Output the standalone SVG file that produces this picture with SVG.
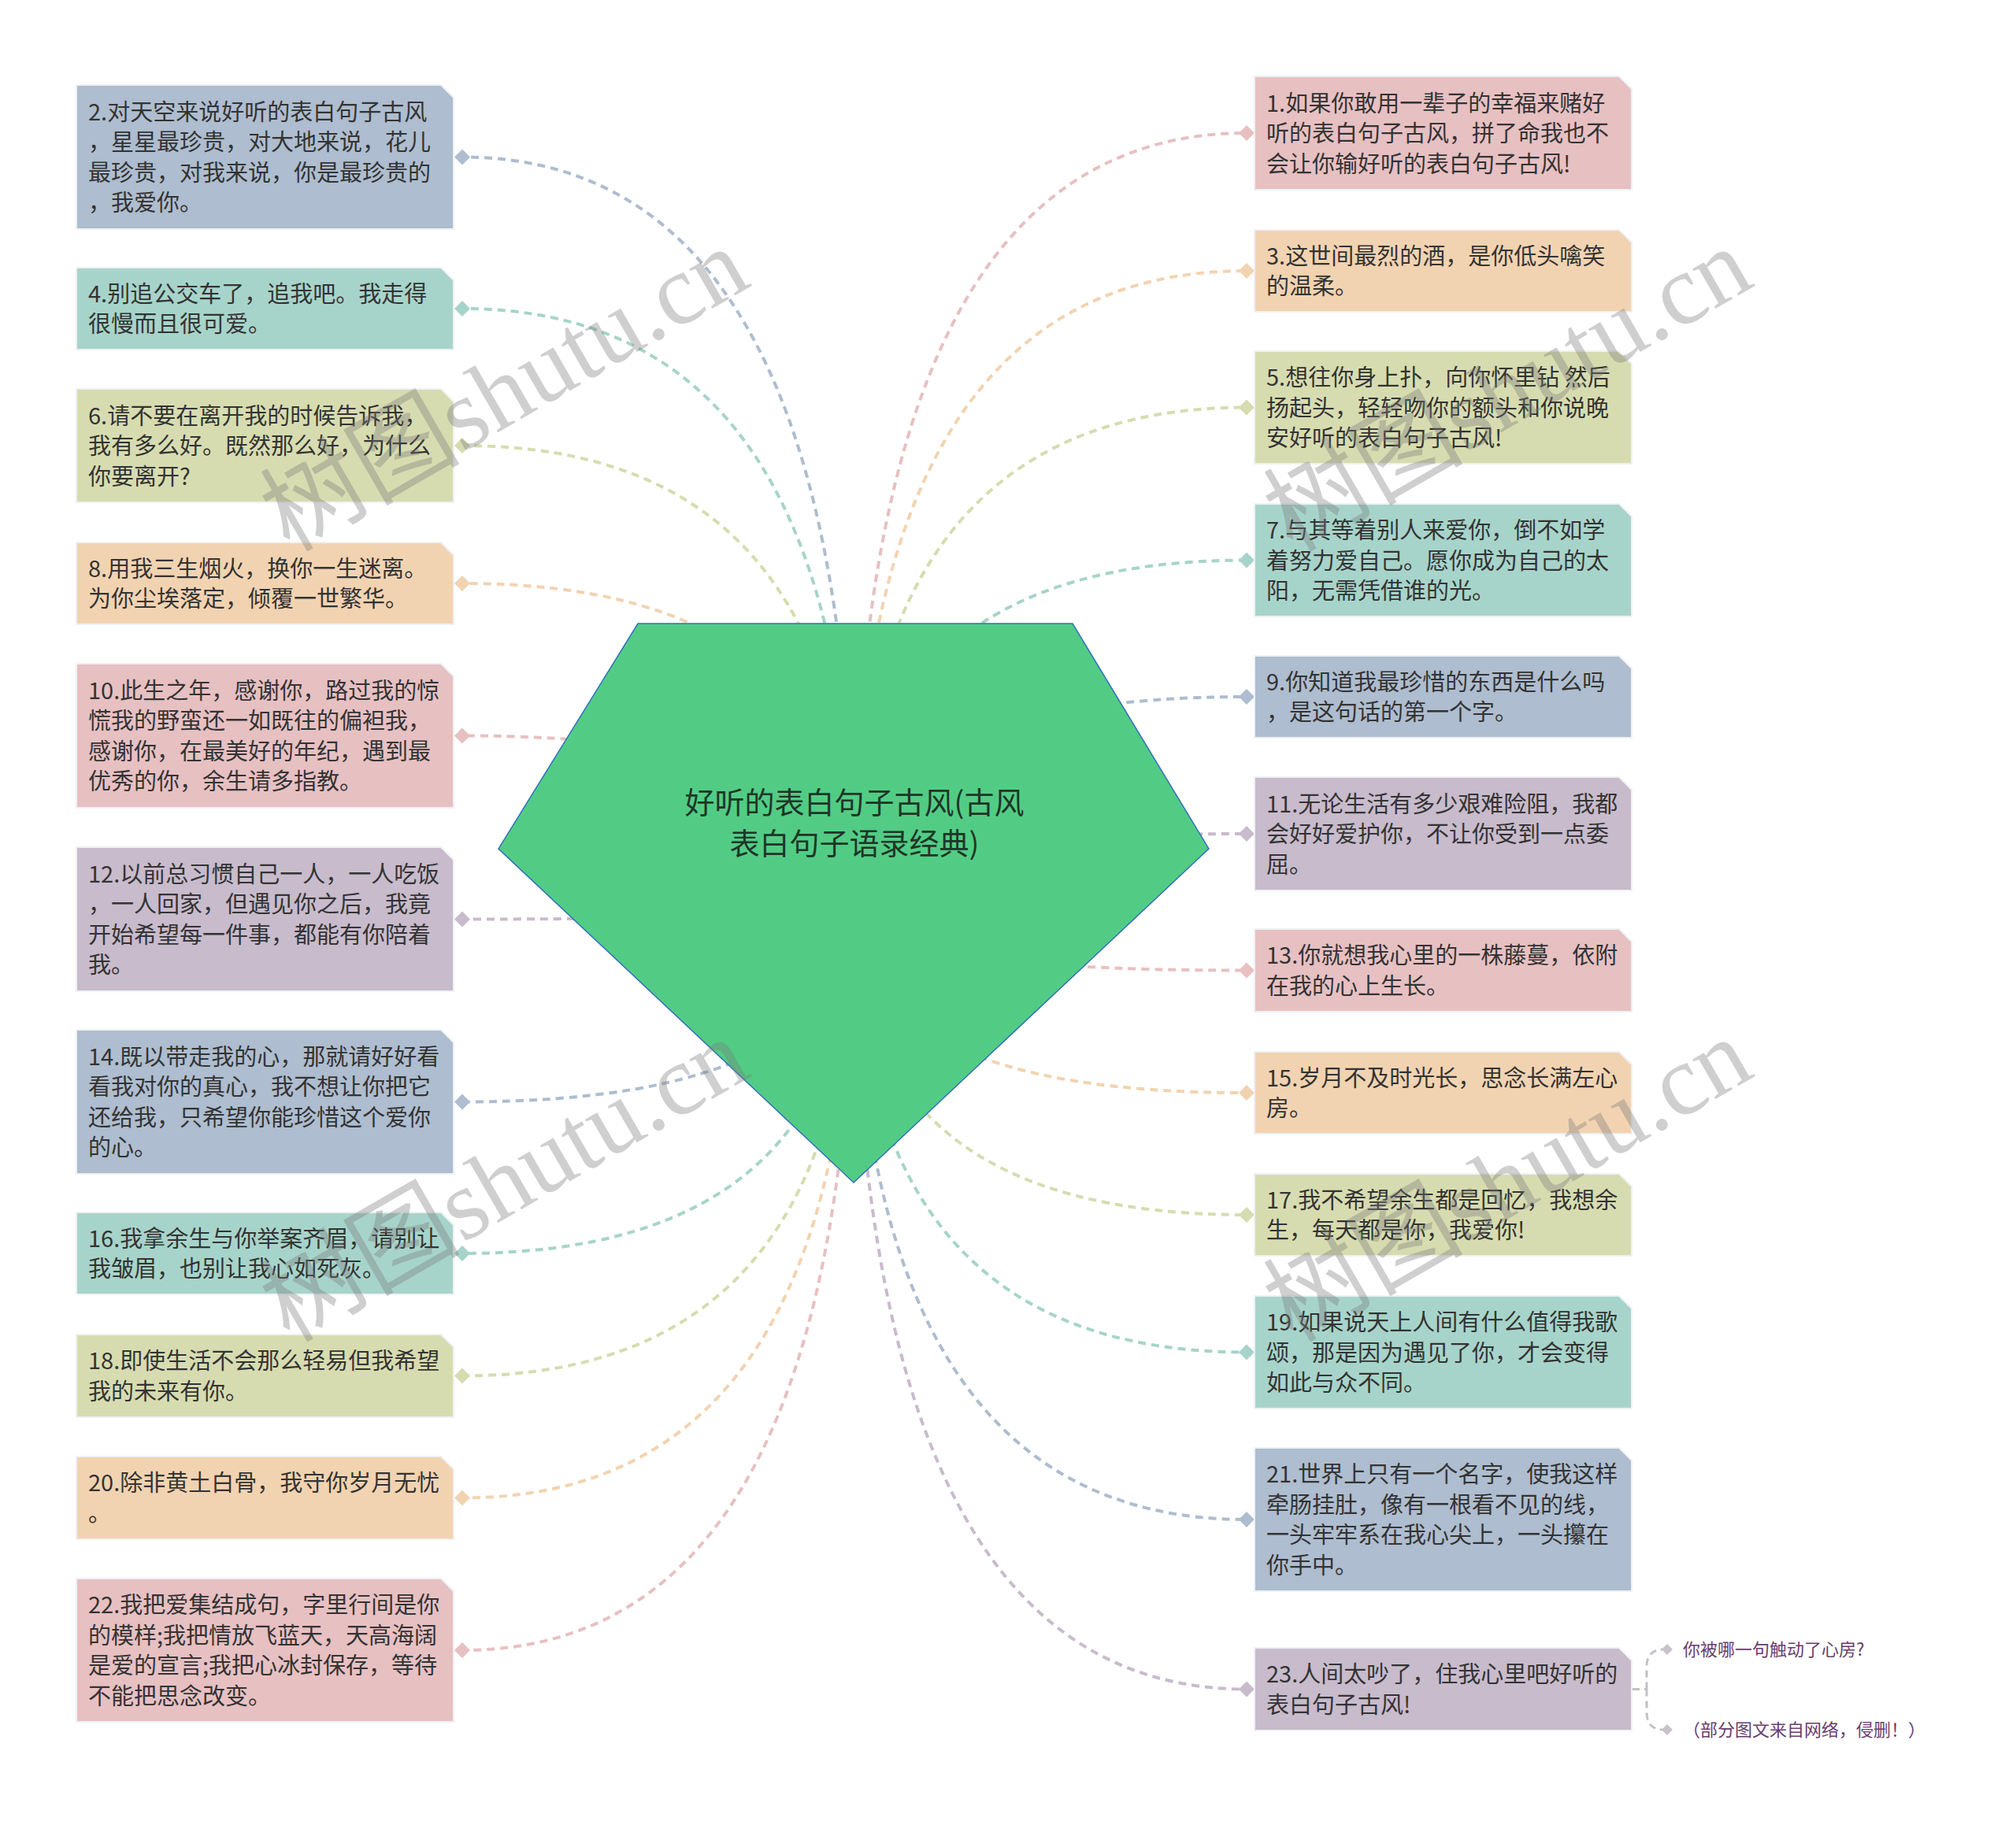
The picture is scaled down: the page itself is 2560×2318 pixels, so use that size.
<svg xmlns="http://www.w3.org/2000/svg" xmlns:xlink="http://www.w3.org/1999/xlink" width="2560" height="2318" viewBox="0 0 2560 2318">
<style>
.t{font-family:"Noto Sans CJK SC","Noto Sans",sans-serif;font-size:29px;fill:#333333}
.root{font-family:"Noto Sans CJK SC","Noto Sans",sans-serif;font-size:38px;fill:#1f3527;text-anchor:middle}
.sub{font-family:"Noto Sans CJK SC","Noto Sans",sans-serif;font-size:22px;fill:#6a3d6c}
.box{stroke:#eef1f4;stroke-width:2}
.c{fill:none;stroke-width:4;stroke-dasharray:10 7}
.wm{font-family:"Liberation Serif","Noto Sans CJK SC",serif;font-size:127px;fill:#7a7a7a;fill-opacity:0.36;text-anchor:middle}
.blue{fill:#aebdcf}.teal{fill:#a7d4ca}.olive{fill:#d7dcb0}.peach{fill:#f2d3b1}.pink{fill:#e7c0c2}.lav{fill:#c8bbcc}
.sblue{stroke:#aebdcf}.steal{stroke:#a7d4ca}.solive{stroke:#d7dcb0}.speach{stroke:#f2d3b1}.spink{stroke:#e7c0c2}.slav{stroke:#c8bbcc}
</style>
<defs>
<path id="dm" d="M-10,0 L0,-10 L10,0 L0,10 Z"/>
<path id="dms" d="M-7,0 L0,-7 L7,0 L0,7 Z"/>
</defs>
<rect width="2560" height="2318" fill="#ffffff"/>

<g id="connectors">
<path class="c sblue" d="M1084,1146 Q1084,199.5 587,199.5"/>
<path class="c steal" d="M1084,1146 Q1084,392 587,392"/>
<path class="c solive" d="M1084,1146 Q1084,566 587,566"/>
<path class="c speach" d="M1084,1146 Q1084,741 587,741"/>
<path class="c spink" d="M1084,1146 Q1084,934.5 587,934.5"/>
<path class="c slav" d="M1084,1146 Q1084,1167.5 587,1167.5"/>
<path class="c sblue" d="M1084,1146 Q1084,1399.5 587,1399.5"/>
<path class="c steal" d="M1084,1146 Q1084,1592 587,1592"/>
<path class="c solive" d="M1084,1146 Q1084,1747.5 587,1747.5"/>
<path class="c speach" d="M1084,1146 Q1084,1902.5 587,1902.5"/>
<path class="c spink" d="M1084,1146 Q1084,2096 587,2096"/>
<path class="c spink" d="M1084,1146 Q1084,169 1583,169"/>
<path class="c speach" d="M1084,1146 Q1084,344 1583,344"/>
<path class="c solive" d="M1084,1146 Q1084,517.5 1583,517.5"/>
<path class="c steal" d="M1084,1146 Q1084,711.5 1583,711.5"/>
<path class="c sblue" d="M1084,1146 Q1084,885 1583,885"/>
<path class="c slav" d="M1084,1146 Q1084,1059 1583,1059"/>
<path class="c spink" d="M1084,1146 Q1084,1232.5 1583,1232.5"/>
<path class="c speach" d="M1084,1146 Q1084,1388 1583,1388"/>
<path class="c solive" d="M1084,1146 Q1084,1543 1583,1543"/>
<path class="c steal" d="M1084,1146 Q1084,1717.5 1583,1717.5"/>
<path class="c sblue" d="M1084,1146 Q1084,1930 1583,1930"/>
<path class="c slav" d="M1084,1146 Q1084,2145.5 1583,2145.5"/>
<path d="M2073,2145.5 H2091 M2091,2145.5 V2117 Q2091,2095 2113,2095 M2091,2145.5 V2175 Q2091,2197 2113,2197" fill="none" stroke="#c4c0c6" stroke-width="3" stroke-dasharray="9 6"/>
<use xlink:href="#dm" href="#dm" x="587" y="199.5" class="blue"/>
<use xlink:href="#dm" href="#dm" x="587" y="392" class="teal"/>
<use xlink:href="#dm" href="#dm" x="587" y="566" class="olive"/>
<use xlink:href="#dm" href="#dm" x="587" y="741" class="peach"/>
<use xlink:href="#dm" href="#dm" x="587" y="934.5" class="pink"/>
<use xlink:href="#dm" href="#dm" x="587" y="1167.5" class="lav"/>
<use xlink:href="#dm" href="#dm" x="587" y="1399.5" class="blue"/>
<use xlink:href="#dm" href="#dm" x="587" y="1592" class="teal"/>
<use xlink:href="#dm" href="#dm" x="587" y="1747.5" class="olive"/>
<use xlink:href="#dm" href="#dm" x="587" y="1902.5" class="peach"/>
<use xlink:href="#dm" href="#dm" x="587" y="2096" class="pink"/>
<use xlink:href="#dm" href="#dm" x="1583" y="169" class="pink"/>
<use xlink:href="#dm" href="#dm" x="1583" y="344" class="peach"/>
<use xlink:href="#dm" href="#dm" x="1583" y="517.5" class="olive"/>
<use xlink:href="#dm" href="#dm" x="1583" y="711.5" class="teal"/>
<use xlink:href="#dm" href="#dm" x="1583" y="885" class="blue"/>
<use xlink:href="#dm" href="#dm" x="1583" y="1059" class="lav"/>
<use xlink:href="#dm" href="#dm" x="1583" y="1232.5" class="pink"/>
<use xlink:href="#dm" href="#dm" x="1583" y="1388" class="peach"/>
<use xlink:href="#dm" href="#dm" x="1583" y="1543" class="olive"/>
<use xlink:href="#dm" href="#dm" x="1583" y="1717.5" class="teal"/>
<use xlink:href="#dm" href="#dm" x="1583" y="1930" class="blue"/>
<use xlink:href="#dm" href="#dm" x="1583" y="2145.5" class="lav"/>
<use xlink:href="#dms" href="#dms" x="2117" y="2095" fill="#c9c1cc"/>
<use xlink:href="#dms" href="#dms" x="2117" y="2197" fill="#c9c1cc"/>
</g>

<g id="root">
<polygon points="810,792 1362,792 1535,1078 1084,1502 633,1078" fill="#52cc85" stroke="#2f6fbd" stroke-width="1.5"/>
<text class="root" x="1085" y="1033">好听的表白句子古风(古风</text>
<text class="root" x="1085" y="1085">表白句子语录经典)</text>
</g>

<g id="n2"><path class="box blue" d="M97,108 H560 L576,124 V291 H97 Z"/>
<text class="t" x="112" y="152.75">2.对天空来说好听的表白句子古风</text><text class="t" x="112" y="191.25">，星星最珍贵，对大地来说，花儿</text><text class="t" x="112" y="229.75">最珍贵，对我来说，你是最珍贵的</text><text class="t" x="112" y="268.25">，我爱你。</text></g>
<g id="n4"><path class="box teal" d="M97,340 H560 L576,356 V444 H97 Z"/>
<text class="t" x="112" y="383.75">4.别追公交车了，追我吧。我走得</text><text class="t" x="112" y="422.25">很慢而且很可爱。</text></g>
<g id="n6"><path class="box olive" d="M97,494 H560 L576,510 V638 H97 Z"/>
<text class="t" x="112" y="538.5">6.请不要在离开我的时候告诉我，</text><text class="t" x="112" y="577">我有多么好。既然那么好，为什么</text><text class="t" x="112" y="615.5">你要离开?</text></g>
<g id="n8"><path class="box peach" d="M97,689 H560 L576,705 V793 H97 Z"/>
<text class="t" x="112" y="732.75">8.用我三生烟火，换你一生迷离。</text><text class="t" x="112" y="771.25">为你尘埃落定，倾覆一世繁华。</text></g>
<g id="n10"><path class="box pink" d="M97,843 H560 L576,859 V1026 H97 Z"/>
<text class="t" x="112" y="887.75">10.此生之年，感谢你，路过我的惊</text><text class="t" x="112" y="926.25">慌我的野蛮还一如既往的偏袒我，</text><text class="t" x="112" y="964.75">感谢你，在最美好的年纪，遇到最</text><text class="t" x="112" y="1003.25">优秀的你，余生请多指教。</text></g>
<g id="n12"><path class="box lav" d="M97,1076 H560 L576,1092 V1259 H97 Z"/>
<text class="t" x="112" y="1120.75">12.以前总习惯自己一人，一人吃饭</text><text class="t" x="112" y="1159.25">，一人回家，但遇见你之后，我竟</text><text class="t" x="112" y="1197.75">开始希望每一件事，都能有你陪着</text><text class="t" x="112" y="1236.25">我。</text></g>
<g id="n14"><path class="box blue" d="M97,1308 H560 L576,1324 V1491 H97 Z"/>
<text class="t" x="112" y="1352.75">14.既以带走我的心，那就请好好看</text><text class="t" x="112" y="1391.25">看我对你的真心，我不想让你把它</text><text class="t" x="112" y="1429.75">还给我，只希望你能珍惜这个爱你</text><text class="t" x="112" y="1468.25">的心。</text></g>
<g id="n16"><path class="box teal" d="M97,1540 H560 L576,1556 V1644 H97 Z"/>
<text class="t" x="112" y="1583.75">16.我拿余生与你举案齐眉，请别让</text><text class="t" x="112" y="1622.25">我皱眉，也别让我心如死灰。</text></g>
<g id="n18"><path class="box olive" d="M97,1695 H560 L576,1711 V1800 H97 Z"/>
<text class="t" x="112" y="1739.25">18.即使生活不会那么轻易但我希望</text><text class="t" x="112" y="1777.75">我的未来有你。</text></g>
<g id="n20"><path class="box peach" d="M97,1850 H560 L576,1866 V1955 H97 Z"/>
<text class="t" x="112" y="1894.25">20.除非黄土白骨，我守你岁月无忧</text><text class="t" x="112" y="1932.75">。</text></g>
<g id="n22"><path class="box pink" d="M97,2005 H560 L576,2021 V2187 H97 Z"/>
<text class="t" x="112" y="2049.25">22.我把爱集结成句，字里行间是你</text><text class="t" x="112" y="2087.75">的模样;我把情放飞蓝天，天高海阔</text><text class="t" x="112" y="2126.25">是爱的宣言;我把心冰封保存，等待</text><text class="t" x="112" y="2164.75">不能把思念改变。</text></g>

<g id="n1"><path class="box pink" d="M1593,97 H2056 L2072,113 V241 H1593 Z"/>
<text class="t" x="1608" y="141.5">1.如果你敢用一辈子的幸福来赌好</text><text class="t" x="1608" y="180">听的表白句子古风，拼了命我也不</text><text class="t" x="1608" y="218.5">会让你输好听的表白句子古风!</text></g>
<g id="n3"><path class="box peach" d="M1593,292 H2056 L2072,308 V396 H1593 Z"/>
<text class="t" x="1608" y="335.75">3.这世间最烈的酒，是你低头噙笑</text><text class="t" x="1608" y="374.25">的温柔。</text></g>
<g id="n5"><path class="box olive" d="M1593,446 H2056 L2072,462 V589 H1593 Z"/>
<text class="t" x="1608" y="490">5.想往你身上扑，向你怀里钻 然后</text><text class="t" x="1608" y="528.5">扬起头，轻轻吻你的额头和你说晚</text><text class="t" x="1608" y="567">安好听的表白句子古风!</text></g>
<g id="n7"><path class="box teal" d="M1593,640 H2056 L2072,656 V783 H1593 Z"/>
<text class="t" x="1608" y="684">7.与其等着别人来爱你，倒不如学</text><text class="t" x="1608" y="722.5">着努力爱自己。愿你成为自己的太</text><text class="t" x="1608" y="761">阳，无需凭借谁的光。</text></g>
<g id="n9"><path class="box blue" d="M1593,833 H2056 L2072,849 V937 H1593 Z"/>
<text class="t" x="1608" y="876.75">9.你知道我最珍惜的东西是什么吗</text><text class="t" x="1608" y="915.25">，是这句话的第一个字。</text></g>
<g id="n11"><path class="box lav" d="M1593,987 H2056 L2072,1003 V1131 H1593 Z"/>
<text class="t" x="1608" y="1031.5">11.无论生活有多少艰难险阻，我都</text><text class="t" x="1608" y="1070">会好好爱护你，不让你受到一点委</text><text class="t" x="1608" y="1108.5">屈。</text></g>
<g id="n13"><path class="box pink" d="M1593,1180 H2056 L2072,1196 V1285 H1593 Z"/>
<text class="t" x="1608" y="1224.25">13.你就想我心里的一株藤蔓，依附</text><text class="t" x="1608" y="1262.75">在我的心上生长。</text></g>
<g id="n15"><path class="box peach" d="M1593,1336 H2056 L2072,1352 V1440 H1593 Z"/>
<text class="t" x="1608" y="1379.75">15.岁月不及时光长，思念长满左心</text><text class="t" x="1608" y="1418.25">房。</text></g>
<g id="n17"><path class="box olive" d="M1593,1491 H2056 L2072,1507 V1595 H1593 Z"/>
<text class="t" x="1608" y="1534.75">17.我不希望余生都是回忆，我想余</text><text class="t" x="1608" y="1573.25">生，每天都是你，我爱你!</text></g>
<g id="n19"><path class="box teal" d="M1593,1646 H2056 L2072,1662 V1789 H1593 Z"/>
<text class="t" x="1608" y="1690">19.如果说天上人间有什么值得我歌</text><text class="t" x="1608" y="1728.5">颂，那是因为遇见了你，才会变得</text><text class="t" x="1608" y="1767">如此与众不同。</text></g>
<g id="n21"><path class="box blue" d="M1593,1839 H2056 L2072,1855 V2021 H1593 Z"/>
<text class="t" x="1608" y="1883.25">21.世界上只有一个名字，使我这样</text><text class="t" x="1608" y="1921.75">牵肠挂肚，像有一根看不见的线，</text><text class="t" x="1608" y="1960.25">一头牢牢系在我心尖上，一头攥在</text><text class="t" x="1608" y="1998.75">你手中。</text></g>
<g id="n23"><path class="box lav" d="M1593,2093 H2056 L2072,2109 V2198 H1593 Z"/>
<text class="t" x="1608" y="2137.25">23.人间太吵了，住我心里吧好听的</text><text class="t" x="1608" y="2175.75">表白句子古风!</text></g>
<g id="n23a"><text class="sub" x="2137" y="2103">你被哪一句触动了心房?</text></g>
<g id="n23b"><text class="sub" x="2137" y="2205">（部分图文来自网络，侵删！）</text></g>

<g id="watermarks">
<text class="wm" x="662" y="532" transform="rotate(-30 662 532)">树图shutu.cn</text>
<text class="wm" x="1936" y="532" transform="rotate(-30 1936 532)">树图shutu.cn</text>
<text class="wm" x="662" y="1536" transform="rotate(-30 662 1536)">树图shutu.cn</text>
<text class="wm" x="1936" y="1536" transform="rotate(-30 1936 1536)">树图shutu.cn</text>
</g>
</svg>
